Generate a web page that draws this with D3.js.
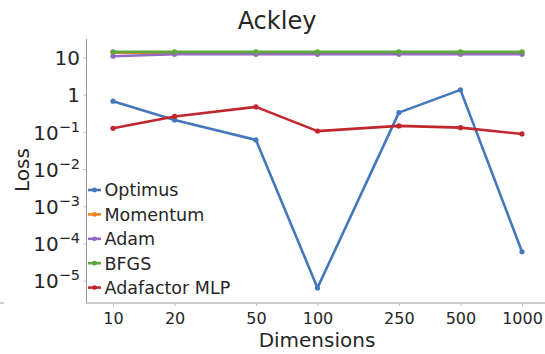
<!DOCTYPE html>
<html>
<head>
<meta charset="utf-8">
<script src="https://cdn.jsdelivr.net/npm/d3@7"></script>
<style>
  html, body { margin: 0; padding: 0; background: #fff; }
  svg { display: block; font-family: "DejaVu Sans", Verdana, sans-serif; }
</style>
</head>
<body>
<svg id="chart" width="545" height="354"></svg>
<script>
// Problem sizes on the x axis
const dimensions = [10, 20, 50, 100, 250, 500, 1000];

// Final loss per optimizer
const optimus    = [0.67, 0.21, 0.061, 6.4e-6, 0.33, 1.35, 6.0e-5];
const momentum   = [13.5, 13.5, 13.5, 13.5, 13.5, 13.5, 13.5];
const adam       = [10.8, 12.2, 12.2, 12.2, 12.2, 12.2, 12.2];
const bfgs       = [14.2, 14.2, 14.2, 14.2, 14.2, 14.2, 14.2];
const adafactor  = [0.125, 0.26, 0.47, 0.105, 0.145, 0.13, 0.088];

const seriesNames  = ["Optimus", "Momentum", "Adam", "BFGS", "Adafactor MLP"];
const seriesColors = ["#4477bb", "#f0851f", "#9468c6", "#5ca83b", "#c1272d"];
const yTickExps    = [1, 0, -1, -2, -3, -4, -5];

const seriesValues = [optimus, momentum, adam, bfgs, adafactor];
// draw order: blue and red on top of the flat lines
const drawOrder = [1, 2, 3, 0, 4];

const svg = d3.select("#chart");

const x = d3.scaleLog().domain([10, 1000]).range([113, 522]);
const y = d3.scaleLog().domain([1e-5, 10]).range([280.7, 57.5]);

const axisColor = "#9a9a9a";
const textColor = "#262626";
const baseY = 303;

// spines
svg.append("line").attr("x1", 86.5).attr("x2", 86.5).attr("y1", 39).attr("y2", baseY)
  .attr("stroke", axisColor).attr("stroke-width", 1);
svg.append("line").attr("x1", 86).attr("x2", 545).attr("y1", baseY).attr("y2", baseY)
  .attr("stroke", axisColor).attr("stroke-width", 1);
svg.append("line").attr("x1", 0).attr("x2", 4).attr("y1", baseY).attr("y2", baseY)
  .attr("stroke", axisColor).attr("stroke-width", 1);

// x axis
const xAxis = d3.axisBottom(x).tickValues(dimensions).tickFormat(d3.format("d"))
  .tickSize(3).tickPadding(7);
const gx = svg.append("g").attr("transform", `translate(0,${baseY})`).call(xAxis);
gx.select(".domain").remove();
gx.selectAll(".tick line").attr("stroke", "#bbbbbb");
gx.selectAll(".tick text").attr("fill", textColor).attr("font-size", 16)
  .attr("font-family", "DejaVu Sans");

// y axis with power-of-ten labels
const yAxis = d3.axisLeft(y).tickValues(yTickExps.map(e => Math.pow(10, e)))
  .tickSize(3).tickPadding(4).tickFormat("");
const gy = svg.append("g").attr("transform", "translate(86.5,0)").call(yAxis);
gy.select(".domain").remove();
gy.selectAll(".tick line").attr("stroke", "#bbbbbb");
gy.selectAll(".tick").each(function (d) {
  const e = Math.round(Math.log10(d));
  const t = d3.select(this).append("text")
    .attr("x", -6.5).attr("dy", "0.36em")
    .attr("text-anchor", "end").attr("fill", textColor)
    .attr("font-size", 20).attr("font-family", "DejaVu Sans");
  if (e === 1) t.text("10");
  else if (e === 0) t.text("1");
  else {
    t.append("tspan").text("10");
    t.append("tspan").attr("dy", "-0.55em").attr("font-size", 14.5).text("\u2212" + (-e));
  }
});

// series lines
const line = d3.line().x((d, i) => x(dimensions[i])).y(d => y(d));
drawOrder.forEach(k => {
  const g = svg.append("g");
  g.append("path").datum(seriesValues[k]).attr("d", line)
    .attr("fill", "none").attr("stroke", seriesColors[k])
    .attr("stroke-width", 2.6).attr("stroke-linejoin", "round");
  g.selectAll("circle").data(seriesValues[k]).join("circle")
    .attr("cx", (d, i) => x(dimensions[i])).attr("cy", d => y(d))
    .attr("r", 2.6).attr("fill", seriesColors[k]);
});

// legend
const legend = svg.append("g");
seriesNames.forEach((name, i) => {
  const cy = 190 + i * 24.4;
  legend.append("line").attr("x1", 88).attr("x2", 101).attr("y1", cy).attr("y2", cy)
    .attr("stroke", seriesColors[i]).attr("stroke-width", 2.6);
  legend.append("circle").attr("cx", 94.5).attr("cy", cy).attr("r", 2.4)
    .attr("fill", seriesColors[i]);
  legend.append("text").attr("x", 104.5).attr("y", cy).attr("dy", "0.36em")
    .attr("fill", textColor).attr("font-size", 17.5).text(name);
});

// titles
svg.append("text").attr("x", 277).attr("y", 29).attr("text-anchor", "middle")
  .attr("fill", textColor).attr("font-size", 24).text("Ackley");
svg.append("text").attr("x", 317).attr("y", 347).attr("text-anchor", "middle")
  .attr("fill", textColor).attr("font-size", 20).text("Dimensions");
svg.append("text").attr("transform", "translate(29,170) rotate(-90)")
  .attr("text-anchor", "middle").attr("fill", textColor).attr("font-size", 20).text("Loss");
</script>
</body>
</html>
